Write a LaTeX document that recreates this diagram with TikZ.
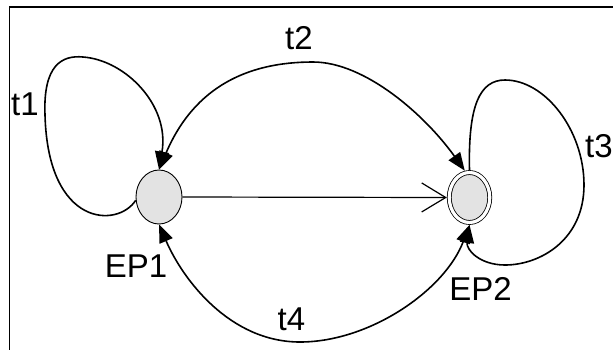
\documentclass[tikz,border=0pt]{standalone}
\usepackage{fontspec}
\setmainfont{Liberation Sans}
\usetikzlibrary{arrows.meta,shapes.geometric}
\definecolor{statefill}{HTML}{E3E3E3}
\begin{document}
\begin{tikzpicture}[x=1pt,y=-1pt,
  state/.style={ellipse,draw=black,line width=0.9pt,fill=statefill,inner sep=0pt,
    minimum width=46pt,minimum height=54pt},
  final/.style={ellipse,draw=black,line width=0.8pt,double=white,double distance=3.2pt,
    fill=statefill,inner sep=0pt,outer sep=2.4pt,minimum width=40.5pt,minimum height=50pt},
  lbl/.style={inner sep=0pt,font=\fontsize{33}{33}\selectfont},
  trans/.style={line width=1.6pt,-{Triangle[length=18pt,width=14pt]}},
  trans2/.style={line width=1.6pt,{Triangle[length=18pt,width=14pt]}-{Triangle[length=18pt,width=14pt]}},
  plain/.style={line width=1.2pt,-{Straight Barb[length=24pt,width=29pt,line width=1.2pt]}}]
\useasboundingbox (0,0) rectangle (613,349);
\draw[line width=1.5pt] (9.5,420) -- (9.5,7) -- (700,7);

\node[state] (EP1) at (159,197) {};
\node[final] (EP2) at (469.5,197.5) {};

\node[lbl] (l1) at (25,104) {t1};
\node[lbl] (l2) at (299,38) {t2};
\node[lbl] (l3) at (599,146) {t3};
\node[lbl] (l4) at (291.5,319) {t4};
\node[lbl] (n1) at (136,266) {EP1};
\node[lbl] (n2) at (480.5,288.5) {EP2};

% straight arrow
\draw[plain] (EP1.east) -- (EP2.west);

% t1 loop
\draw[trans] (EP1.188) .. controls (118,228) and (48,228) .. (45,115)
  .. controls (43,65) and (62,55) .. (83,57)
  .. controls (125,60) and (170,105) .. (EP1.north);

% t2
\draw[trans2] (EP1.north) .. controls (195,85) and (250,62) .. (313,62)
  .. controls (365,62) and (425,115) .. (EP2.100);

% t3 loop
\draw[trans] (EP2.north) .. controls (468,105) and (480,80) .. (505,80)
  .. controls (545,80) and (584,130) .. (584,185)
  .. controls (584,240) and (540,265) .. (505,265)
  .. controls (480,265) and (466,250) .. (EP2.south);

% t4
\draw[trans2] (EP1.south) .. controls (183,280) and (230,342) .. (300,342)
  .. controls (370,342) and (445,290) .. (EP2.south);
\end{tikzpicture}
\end{document}
